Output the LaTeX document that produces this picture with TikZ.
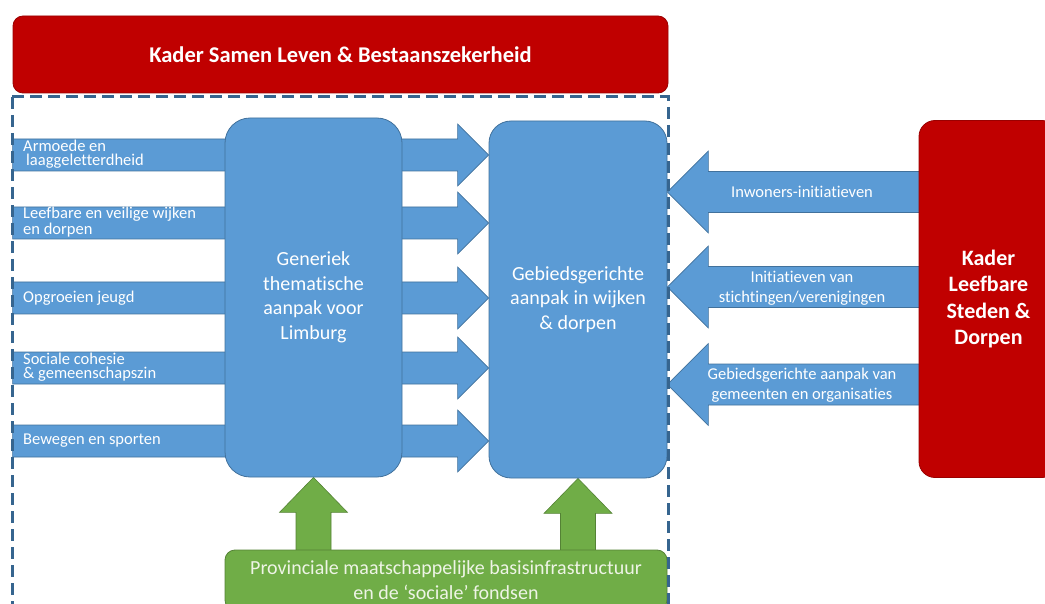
\documentclass[tikz,border=0pt]{standalone}
\usepackage{fontspec}
\setmainfont[Ligatures=NoCommon]{Carlito}
\usetikzlibrary{backgrounds}
\definecolor{vakblauw}{HTML}{5B9BD5}
\definecolor{lijnblauw}{HTML}{41719C}
\definecolor{streepblauw}{HTML}{36658F}
\definecolor{kaderrood}{HTML}{C00000}
\definecolor{lijnrood}{HTML}{9A0000}
\definecolor{basisgroen}{HTML}{70AD47}
\definecolor{lijngroen}{HTML}{548235}
\definecolor{tekstgroen}{HTML}{EEF4E6}

\begin{document}
\begin{tikzpicture}[x=1pt,y=-1pt,
        vak/.style={draw=lijnblauw,fill=vakblauw,line width=0.8pt,rounded corners=#1,inner sep=0pt,text=white,align=center,font=\fontsize{20}{24.5}\selectfont},
        vak/.default=22pt,
        rood/.style={draw=lijnrood,fill=kaderrood,line width=0.8pt,rounded corners=#1,inner sep=0pt,text=white,align=center},
        groen/.style={draw=lijngroen,fill=basisgroen,line width=0.8pt,rounded corners=10pt,inner sep=0pt,text=tekstgroen,align=center,font=\fontsize{20}{25}\selectfont},
        pijl/.style={draw=lijnblauw,fill=vakblauw,line width=0.6pt},
        gpijl/.style={draw=lijngroen,fill=basisgroen,line width=0.6pt},
        thema/.style={anchor=west,inner sep=0pt,text=white,align=left,font=\fontsize{16.5}{14}\selectfont},
        inbreng/.style={inner sep=0pt,text=white,align=center,font=\fontsize{16.5}{19.5}\selectfont},
        kaderlijn/.style={streepblauw,line width=3pt,dash pattern=on 12pt off 6pt}]
    \useasboundingbox (0,0) rectangle (1045,604);

    \node[rood=10pt,minimum width=655pt,minimum height=77pt,font=\bfseries\fontsize{22.5}{27}\selectfont] (kader) at (340.5,54.5) {Kader Samen Leven \& Bestaanszekerheid};
    \node[vak=25pt,minimum width=177pt,minimum height=359pt] (generiek) at (313.5,297.5) {Generiek\\thematische\\aanpak voor\\Limburg};
    \node[vak,minimum width=178pt,minimum height=357pt] (gebied) at (578,299.5) {Gebiedsgerichte\\aanpak in wijken\\\& dorpen};
    \node[rood=16pt,minimum width=139pt,minimum height=357pt,font=\bfseries\fontsize{22}{26.5}\selectfont] (leefbaar) at (988.5,299) {Kader\\Leefbare\\Steden \&\\Dorpen};
    \node[groen,minimum width=442pt,minimum height=60pt] (basis) at (446,580) {Provinciale maatschappelijke basisinfrastructuur\\en de ‘sociale’ fondsen};

    % thema's links
    \foreach \y/\tekst [count=\i] in {154/{Armoede en\\\hspace*{3pt}laaggeletterdheid},222/{Leefbare en veilige wijken\\en dorpen},298/{Opgroeien jeugd},367/{Sociale cohesie\\\& gemeenschapszin},441/{Bewegen en sporten}}
        \node[thema] (thema\i) at (23,\y) {\tekst};

    % inbreng rechts
    \node[inbreng] (inwoners) at (802,192) {Inwoners-initiatieven};
    \node[inbreng] (stichtingen) at (802,288) {Initiatieven van\\stichtingen/verenigingen};
    \node[inbreng] (gemeenten) at (802,385) {Gebiedsgerichte aanpak van\\gemeenten en organisaties};

    \begin{scope}[on background layer]
        \foreach \y in {155,223,298,368,441}
            \draw[pijl] (gebied.west |- 0,\y) -- ++(-31,-31) -- ++(0,15) -- ++(-445,0) -- ++(0,32) -- ++(445,0) -- ++(0,15) -- cycle;
        \foreach \y in {192,287,384.5}
            \draw[pijl] (gebied.east |- 0,\y) -- ++(41,-41) -- ++(0,20.5) -- ++(215,0) -- ++(0,41) -- ++(-215,0) -- ++(0,20.5) -- cycle;
        \draw[gpijl] (generiek.south) -- ++(34,35) -- ++(-16.5,0) -- ++(0,40) -- ++(-35,0) -- ++(0,-40) -- ++(-16.5,0) -- cycle;
        \draw[gpijl] (gebied.south) -- ++(34,35) -- ++(-16.5,0) -- ++(0,40) -- ++(-35,0) -- ++(0,-40) -- ++(-16.5,0) -- cycle;
    \end{scope}

    \draw[kaderlijn] (12,97) -- (668,97) -- (668,640);
    \draw[kaderlijn] (12,97) -- (12,640);
\end{tikzpicture}
\end{document}
